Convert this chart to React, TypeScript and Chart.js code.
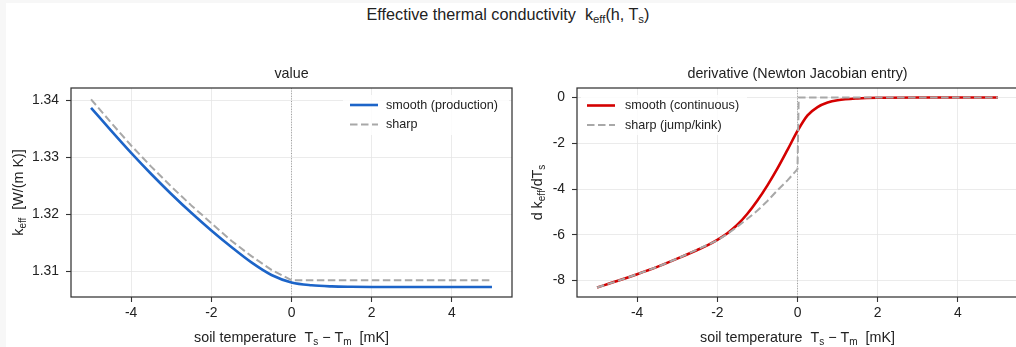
import React, { useEffect, useRef } from 'react';
import { Chart, registerables } from 'chart.js';

Chart.register(...registerables);

const FONT = '"Liberation Sans", Arial, sans-serif';
const TXT = '#222222';

// ---- tick values ----
const xTickValues = [-4, -2, 0, 2, 4];
const valueTickValues = [1.31, 1.32, 1.33, 1.34];
const derivTickValues = [-8, -6, -4, -2, 0];

// ---- left panel: k_eff value ----
const xSmoothValue = [-5, -4.5, -4, -3.5, -3, -2.5, -2, -1.5, -1, -0.5, 0, 0.5, 1, 1.5, 2, 3, 4, 5];
const smoothValue = [1.3387, 1.3347, 1.3308, 1.3271, 1.3236, 1.3203, 1.3172, 1.3143, 1.3116, 1.3094, 1.3081, 1.3076, 1.3074, 1.30733, 1.3073, 1.3073, 1.3073, 1.3073];
const xSharpValue = [-5, -4.5, -4, -3.5, -3, -2.5, -2, -1.5, -1, -0.5, 0, 5];
const sharpValue = [1.3402, 1.3361, 1.3321, 1.3284, 1.3249, 1.3216, 1.3185, 1.3154, 1.3127, 1.3103, 1.30848, 1.30848];

// ---- right panel: derivative ----
const xSmoothDeriv = [-5, -4.5, -4, -3.5, -3, -2.5, -2.25, -2, -1.75, -1.5, -1.25, -1, -0.75, -0.5, -0.25, 0, 0.25, 0.5, 0.75, 1, 1.5, 2, 3, 4, 5];
const smoothDeriv = [-8.3, -8.02, -7.72, -7.4, -7.04, -6.66, -6.46, -6.22, -5.93, -5.56, -5.08, -4.5, -3.84, -3.1, -2.29, -1.46, -0.78, -0.42, -0.22, -0.12, -0.04, -0.01, 0, 0, 0];
const xSharpDeriv = [-5, -4.5, -4, -3.5, -3, -2.5, -2, -1.75, -1.5, -1.25, -1, -0.75, -0.5, -0.25, 0, 0.03, 5];
const sharpDeriv = [-8.3, -8.02, -7.72, -7.4, -7.04, -6.64, -6.24, -5.96, -5.64, -5.3, -4.94, -4.52, -4.05, -3.62, -3.13, 0, 0];

const BLUE = '#1c64c8';
const RED = '#d40000';
const GRAY = '#a8a8a8';
const DASH = [7.5, 3.5];

type Seg = { t: string; sub?: boolean };

function fontStr(size: number) {
  return `${size}px ${FONT}`;
}

function richWidth(ctx: CanvasRenderingContext2D, segs: Seg[], size: number) {
  let w = 0;
  for (const s of segs) {
    ctx.font = fontStr(s.sub ? size * 0.7 : size);
    w += ctx.measureText(s.t).width;
  }
  return w;
}

function drawRich(ctx: CanvasRenderingContext2D, segs: Seg[], cx: number, cy: number, size: number, rot = 0) {
  ctx.save();
  ctx.translate(cx, cy);
  if (rot) ctx.rotate(rot);
  const w = richWidth(ctx, segs, size);
  let x = -w / 2;
  const base = size * 0.36;
  ctx.fillStyle = TXT;
  ctx.textBaseline = 'alphabetic';
  ctx.textAlign = 'left';
  for (const s of segs) {
    const sz = s.sub ? size * 0.7 : size;
    ctx.font = fontStr(sz);
    ctx.fillText(s.t, x, base + (s.sub ? size * 0.22 : 0));
    x += ctx.measureText(s.t).width;
  }
  ctx.restore();
}

interface LegendItem {
  label: string;
  color: string;
  dash: number[];
  width: number;
}

interface PanelCfg {
  title: string;
  xTitle: Seg[];
  yTitle: Seg[];
  yTitleX: number;
  legend: LegendItem[];
  legendLineX: number;
  legendTextX: number;
  legendY: number;
  legendBox: [number, number, number, number];
}

function makePlugin(cfg: PanelCfg) {
  return {
    id: 'panel',
    beforeDatasetsDraw(chart: any) {
      const { ctx, chartArea: a, scales } = chart;
      const x0 = scales.x.getPixelForValue(0);
      ctx.save();
      ctx.strokeStyle = '#8c8c8c';
      ctx.lineWidth = 0.8;
      ctx.setLineDash([1, 1.6]);
      ctx.beginPath();
      ctx.moveTo(x0, a.top);
      ctx.lineTo(x0, a.bottom);
      ctx.stroke();
      ctx.restore();
    },
    afterDatasetsDraw(chart: any) {
      const { ctx, chartArea: a } = chart;
      ctx.save();
      const [bx, by, bw, bh] = cfg.legendBox;
      ctx.fillStyle = 'rgba(255,255,255,0.85)';
      ctx.fillRect(bx, by, bw, bh);
      cfg.legend.forEach((it, i) => {
        const y = cfg.legendY + i * 19.5;
        ctx.strokeStyle = it.color;
        ctx.lineWidth = it.width;
        ctx.setLineDash(it.dash);
        ctx.beginPath();
        ctx.moveTo(cfg.legendLineX, y);
        ctx.lineTo(cfg.legendLineX + 28, y);
        ctx.stroke();
        ctx.setLineDash([]);
        ctx.fillStyle = TXT;
        ctx.font = fontStr(12.6);
        ctx.textAlign = 'left';
        ctx.textBaseline = 'middle';
        ctx.fillText(it.label, cfg.legendTextX, y + 0.5);
      });
      ctx.strokeStyle = '#333333';
      ctx.lineWidth = 1.25;
      ctx.strokeRect(a.left, a.top, a.right - a.left, a.bottom - a.top);
      ctx.restore();
    },
    afterDraw(chart: any) {
      const { ctx, chartArea: a } = chart;
      const cx = (a.left + a.right) / 2;
      ctx.save();
      ctx.fillStyle = TXT;
      ctx.font = fontStr(14.3);
      ctx.textAlign = 'center';
      ctx.textBaseline = 'alphabetic';
      ctx.fillText(cfg.title, cx, 78);
      ctx.restore();
      drawRich(ctx, cfg.xTitle, cx, 337, 14.3);
      drawRich(ctx, cfg.yTitle, cfg.yTitleX, (a.top + a.bottom) / 2, 14.3, -Math.PI / 2);
    },
  };
}

function lineDs(label: string, xs: number[], ys: number[], color: string, dash: number[], width: number, smooth: boolean) {
  return {
    label,
    data: xs.map((x, i) => ({ x, y: ys[i] })),
    borderColor: color,
    backgroundColor: color,
    borderWidth: width,
    borderDash: dash,
    borderCapStyle: 'butt',
    borderJoinStyle: 'round',
    pointRadius: 0,
    fill: false,
    tension: 0,
    cubicInterpolationMode: smooth ? 'monotone' : 'default',
  };
}

interface PanelProps {
  left: number;
  width: number;
  yWidth: number;
  padRight: number;
  yMin: number;
  yMax: number;
  yTicks: number[];
  yFmt: (v: number) => string;
  datasets: any[];
  cfg: PanelCfg;
}

function Panel(p: PanelProps) {
  const ref = useRef<HTMLCanvasElement>(null);
  useEffect(() => {
    const tickFont = { family: FONT, size: 13.9 };
    const grid = {
      color: '#e6e6e6',
      lineWidth: 0.8,
      tickColor: '#333333',
      tickLength: 5,
      tickWidth: 1.1,
      drawTicks: true,
    };
    const chart = new Chart(ref.current as HTMLCanvasElement, {
      type: 'line',
      data: { datasets: p.datasets },
      options: {
        responsive: false,
        devicePixelRatio: 1,
        animation: false,
        events: [],
        layout: { padding: { top: 88, right: p.padRight, left: 0, bottom: 0 } },
        plugins: { legend: { display: false }, tooltip: { enabled: false }, title: { display: false } },
        scales: {
          x: {
            type: 'linear',
            min: -5.5,
            max: 5.5,
            afterBuildTicks: (s: any) => {
              s.ticks = xTickValues.map((v) => ({ value: v }));
            },
            afterFit: (s: any) => {
              s.height = 50;
            },
            ticks: {
              font: tickFont,
              color: TXT,
              padding: 3,
              maxRotation: 0,
              autoSkip: false,
              callback: (v: any) => String(v),
            },
            grid,
            border: { display: false },
          },
          y: {
            type: 'linear',
            min: p.yMin,
            max: p.yMax,
            afterBuildTicks: (s: any) => {
              s.ticks = p.yTicks.map((v) => ({ value: v }));
            },
            afterFit: (s: any) => {
              s.width = p.yWidth;
            },
            ticks: {
              font: tickFont,
              color: TXT,
              padding: 7,
              autoSkip: false,
              callback: (v: any) => p.yFmt(Number(v)),
            },
            grid,
            border: { display: false },
          },
        },
      } as any,
      plugins: [makePlugin(p.cfg) as any],
    });
    return () => chart.destroy();
  }, []);
  return (
    <canvas
      ref={ref}
      width={p.width}
      height={347}
      style={{ position: 'absolute', left: p.left, top: 0, width: p.width, height: 347 }}
    />
  );
}

const xTitleSegs: Seg[] = [
  { t: 'soil temperature  T' },
  { t: 's', sub: true },
  { t: ' \u2212 T' },
  { t: 'm', sub: true },
  { t: '  [mK]' },
];

export default function App() {
  const leftDatasets = [
    lineDs('sharp', xSharpValue, sharpValue, GRAY, DASH, 2, false),
    lineDs('smooth (production)', xSmoothValue, smoothValue, BLUE, [], 2.6, true),
  ];
  const rightDatasets = [
    lineDs('sharp (jump/kink)', xSharpDeriv, sharpDeriv, GRAY, DASH, 2, false),
    lineDs('smooth (continuous)', xSmoothDeriv, smoothDeriv, RED, [], 2.6, true),
  ];
  const leftCfg: PanelCfg = {
    title: 'value',
    xTitle: xTitleSegs,
    yTitle: [{ t: 'k' }, { t: 'eff', sub: true }, { t: '  [W/(m K)]' }],
    yTitleX: 18,
    legend: [
      { label: 'smooth (production)', color: BLUE, dash: [], width: 2.6 },
      { label: 'sharp', color: GRAY, dash: DASH, width: 2 },
    ],
    legendLineX: 350,
    legendTextX: 386,
    legendY: 105,
    legendBox: [343, 95, 166, 40],
  };
  const rightCfg: PanelCfg = {
    title: 'derivative (Newton Jacobian entry)',
    xTitle: xTitleSegs,
    yTitle: [{ t: 'd k' }, { t: 'eff', sub: true }, { t: '/dT' }, { t: 's', sub: true }],
    yTitleX: 17,
    legend: [
      { label: 'smooth (continuous)', color: RED, dash: [], width: 2.6 },
      { label: 'sharp (jump/kink)', color: GRAY, dash: DASH, width: 2 },
    ],
    legendLineX: 67,
    legendTextX: 105,
    legendY: 105.5,
    legendBox: [61, 95, 166, 40],
  };
  return (
    <div
      style={{
        position: 'fixed',
        left: 0,
        top: 0,
        width: 1016,
        height: 347,
        overflow: 'hidden',
        background: '#f7f7f7',
      }}
    >
      <div style={{ position: 'absolute', left: 6, top: 3, width: 1100, height: 400, background: '#ffffff' }} />
      <div
        style={{
          position: 'absolute',
          left: 0,
          top: 5,
          width: 1016,
          textAlign: 'center',
          fontFamily: FONT,
          fontSize: 16.2,
          lineHeight: '18px',
          color: TXT,
          whiteSpace: 'pre',
        }}
      >
        {'Effective thermal conductivity  k'}
        <span style={{ fontSize: '0.7em', verticalAlign: '-0.3em' }}>eff</span>
        {'(h, T'}
        <span style={{ fontSize: '0.7em', verticalAlign: '-0.3em' }}>s</span>
        {')'}
      </div>
      <Panel
        left={0}
        width={530}
        yWidth={71}
        padRight={18}
        yMin={1.30554}
        yMax={1.34218}
        yTicks={valueTickValues}
        yFmt={(v) => v.toFixed(2)}
        datasets={leftDatasets}
        cfg={leftCfg}
      />
      <Panel
        left={520}
        width={510}
        yWidth={57}
        padRight={12}
        yMin={-8.715}
        yMax={0.415}
        yTicks={derivTickValues}
        yFmt={(v) => String(v)}
        datasets={rightDatasets}
        cfg={rightCfg}
      />
    </div>
  );
}
